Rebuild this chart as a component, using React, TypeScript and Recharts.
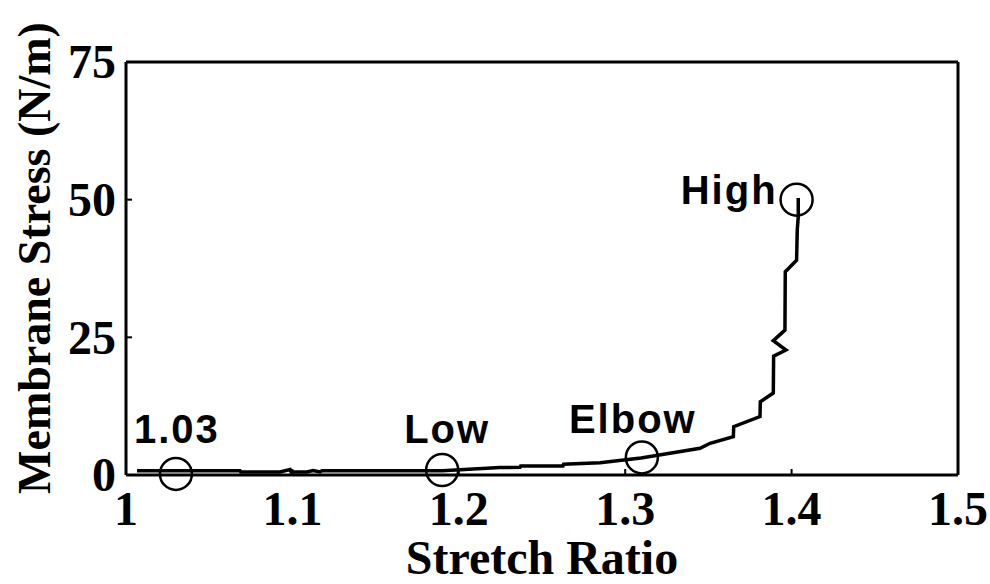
import {
  ComposedChart,
  Label,
  Line,
  Scatter,
  XAxis,
  YAxis,
} from "recharts";

// Stress–stretch curve
const STRETCH = [
  1.0066, 1.0685, 1.069, 1.0925, 1.0986, 1.0992, 1.1088, 1.1124, 1.1166, 1.1178,
  1.19, 1.2248, 1.2368, 1.2372, 1.2626, 1.263, 1.2849, 1.3095, 1.345, 1.351,
  1.365, 1.3652, 1.381, 1.3812, 1.389, 1.3892, 1.3966, 1.389, 1.396, 1.3962,
  1.403, 1.4034, 1.404, 1.404,
];
const STRESS = [
  0.78, 0.78, 0.55, 0.55, 1.0, 0.55, 0.55, 0.82, 0.55, 0.78,
  0.78, 1.36, 1.4, 1.63, 1.63, 1.94, 2.23, 3.1, 4.85, 5.76,
  6.95, 8.77, 10.6, 13.3, 14.9, 21.6, 22.7, 24.4, 26.3, 36.9,
  39.0, 44.5, 46.9, 50.3,
];

// Marked states on the curve
const MARK_LABELS = ["1.03", "Low", "Elbow", "High"];
const MARK_STRETCH = [1.03, 1.19, 1.31, 1.403];
const MARK_STRESS = [0.2, 0.9, 3.2, 50];

const X_TICKS = [1, 1.1, 1.2, 1.3, 1.4, 1.5];
const Y_TICKS = [0, 25, 50, 75];

// label placement relative to its circle: [dx, dy, anchor]
const LABEL_OFFSET: [number, number, "middle" | "end"][] = [
  [1, -31, "middle"],
  [5, -27, "middle"],
  [-9, -24, "middle"],
  [-19, 4, "end"],
];

const SERIF = "'Liberation Serif', 'Times New Roman', serif";
const SANS = "'Liberation Sans', Arial, sans-serif";
const TICK_LEN = 6;
const AXIS_LINE = { stroke: "#000", strokeWidth: 3 };

const curve = STRETCH.map((x, i) => ({ x, s: STRESS[i] }));
const marks = MARK_LABELS.map((label, i) => ({
  label,
  x: MARK_STRETCH[i],
  s: MARK_STRESS[i],
}));

function fmt(v: number) {
  return String(Math.round(v * 10) / 10);
}

function BottomTick({ x, y, payload }: any) {
  return (
    <g>
      <line x1={x} y1={y} x2={x} y2={y - TICK_LEN} stroke="#000" strokeWidth={2} />
      <text
        x={x}
        y={y + 50}
        textAnchor="middle"
        fontFamily={SERIF}
        fontWeight="bold"
        fontSize={48}
        fill="#000"
      >
        {fmt(payload.value)}
      </text>
    </g>
  );
}

function LeftTick({ x, y, payload }: any) {
  return (
    <g>
      <line x1={x} y1={y} x2={x + TICK_LEN} y2={y} stroke="#000" strokeWidth={2} />
      <text
        x={x - 10}
        y={y}
        dy="0.34em"
        textAnchor="end"
        fontFamily={SERIF}
        fontWeight="bold"
        fontSize={48}
        fill="#000"
      >
        {payload.value}
      </text>
    </g>
  );
}

function TopTick({ x, y }: any) {
  return <line x1={x} y1={y} x2={x} y2={y + TICK_LEN} stroke="#000" strokeWidth={2} />;
}

function RightTick({ x, y }: any) {
  return <line x1={x} y1={y} x2={x - TICK_LEN} y2={y} stroke="#000" strokeWidth={2} />;
}

function MarkShape({ cx, cy, payload }: any) {
  const i = MARK_LABELS.indexOf(payload.label);
  const [dx, dy, anchor] = LABEL_OFFSET[i];
  return (
    <g>
      <circle cx={cx} cy={cy} r={16} fill="none" stroke="#000" strokeWidth={2.5} />
      <text
        x={cx + dx}
        y={cy + dy}
        textAnchor={anchor}
        fontFamily={SANS}
        fontWeight="bold"
        fontSize={40}
        letterSpacing={2}
        fill="#000"
      >
        {payload.label}
      </text>
    </g>
  );
}

export default function App() {
  return (
    <div style={{ position: "absolute", left: 0, top: 0, background: "#fff" }}>
      <ComposedChart
        width={990}
        height={584}
        margin={{ top: 61, right: 31, left: 125, bottom: 108 }}
      >
        <XAxis
          xAxisId="b"
          type="number"
          dataKey="x"
          domain={[1, 1.5]}
          ticks={X_TICKS}
          height={1}
          tickSize={0}
          tickMargin={0}
          tickLine={false}
          axisLine={AXIS_LINE}
          tick={<BottomTick />}
          interval={0}
        >
          <Label
            content={({ viewBox }: any) => (
              <text
                x={viewBox.x + viewBox.width / 2}
                y={viewBox.y + 99}
                textAnchor="middle"
                fontFamily={SERIF}
                fontWeight="bold"
                fontSize={48}
                fill="#000"
              >
                Stretch Ratio
              </text>
            )}
          />
        </XAxis>
        <XAxis
          xAxisId="t"
          orientation="top"
          type="number"
          dataKey="x"
          domain={[1, 1.5]}
          ticks={X_TICKS}
          height={1}
          tickSize={0}
          tickMargin={0}
          tickLine={false}
          axisLine={AXIS_LINE}
          tick={<TopTick />}
          interval={0}
        />
        <YAxis
          yAxisId="l"
          type="number"
          domain={[0, 75]}
          ticks={Y_TICKS}
          width={1}
          tickSize={0}
          tickMargin={0}
          tickLine={false}
          axisLine={AXIS_LINE}
          tick={<LeftTick />}
          interval={0}
        >
          <Label
            content={({ viewBox }: any) => {
              const cx = viewBox.x + viewBox.width - 76;
              const cy = 258;
              return (
                <text
                  x={cx}
                  y={cy}
                  transform={`rotate(-90 ${cx} ${cy})`}
                  textAnchor="middle"
                  fontFamily={SERIF}
                  fontWeight="bold"
                  fontSize={46}
                  fill="#000"
                >
                  Membrane Stress (N/m)
                </text>
              );
            }}
          />
        </YAxis>
        <YAxis
          yAxisId="r"
          orientation="right"
          type="number"
          domain={[0, 75]}
          ticks={Y_TICKS}
          width={1}
          tickSize={0}
          tickMargin={0}
          tickLine={false}
          axisLine={AXIS_LINE}
          tick={<RightTick />}
          interval={0}
        />
        <Line
          xAxisId="b"
          yAxisId="l"
          data={curve}
          dataKey="s"
          type="linear"
          stroke="#000"
          strokeWidth={3.5}
          dot={false}
          activeDot={false}
          isAnimationActive={false}
        />
        <Scatter
          xAxisId="b"
          yAxisId="l"
          data={marks}
          dataKey="s"
          shape={<MarkShape />}
          isAnimationActive={false}
        />
      </ComposedChart>
    </div>
  );
}
